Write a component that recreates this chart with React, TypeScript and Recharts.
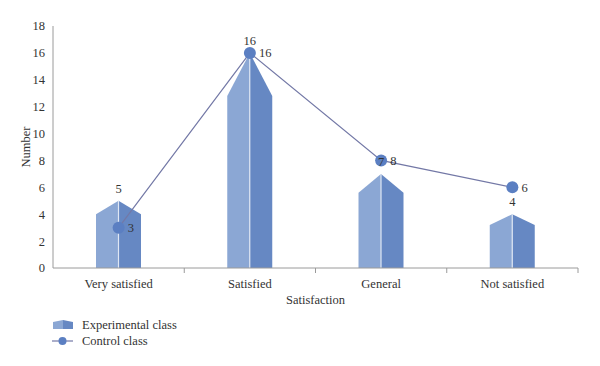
import React from 'react';
import { ComposedChart, Bar, Line, XAxis, YAxis, LabelList, Legend } from 'recharts';

const categories = ['Very satisfied', 'Satisfied', 'General', 'Not satisfied'];
const experimental = [5, 16, 7, 4];
const control = [3, 16, 8, 6];
const yTicks = [0, 2, 4, 6, 8, 10, 12, 14, 16, 18];

const data = categories.map((c, i) => ({ name: c, experimental: experimental[i], control: control[i] }));

const LEFT = '#8ba7d4';
const RIGHT = '#6688c3';
const DOT = '#5b7fc2';
const LINE = '#7378a6';
const FONT = '"Liberation Serif", "DejaVu Serif", serif';
const TXT = '#333';

const HouseBar = (props: any) => {
  const { x, y, width, height } = props;
  if (!height || height <= 0) return null;
  const cx = x + width / 2;
  const sh = y + height * 0.2;
  const b = y + height;
  return (
    <g>
      <polygon points={`${x},${sh} ${cx},${y} ${cx},${b} ${x},${b}`} fill={LEFT} />
      <polygon points={`${cx},${y} ${x + width},${sh} ${x + width},${b} ${cx},${b}`} fill={RIGHT} />
      <line x1={cx} y1={y} x2={cx} y2={b} stroke="#dfe7f4" strokeWidth={1.2} />
    </g>
  );
};

const XTick = (props: any) => {
  const { x, y, payload, index, visibleTicksCount } = props;
  const off = payload && payload.offset ? payload.offset : 65.5;
  const last = index === (visibleTicksCount ? visibleTicksCount - 1 : 3);
  return (
    <g>
      {index > 0 && <line x1={x - off} y1={y - 8} x2={x - off} y2={y - 3} stroke="#9a9a9a" />}
      {last && <line x1={x + off} y1={y - 8} x2={x + off} y2={y - 3} stroke="#9a9a9a" />}
      <text x={x} y={y + 12} textAnchor="middle" fontFamily={FONT} fontSize={12.5} fill={TXT}>
        {payload.value}
      </text>
    </g>
  );
};

const LegendContent = () => (
  <div style={{ fontFamily: FONT, fontSize: 12.5, color: TXT, lineHeight: '16px' }}>
    <div style={{ display: 'flex', alignItems: 'center' }}>
      <svg width={32} height={16}>
        <polygon points="3,5 13,3 13,12 3,12" fill={LEFT} />
        <polygon points="13,3 23,5 23,12 13,12" fill={RIGHT} />
      </svg>
      <span>Experimental class</span>
    </div>
    <div style={{ display: 'flex', alignItems: 'center' }}>
      <svg width={32} height={16}>
        <line x1={2} y1={8} x2={23} y2={8} stroke={LINE} strokeWidth={1.2} />
        <circle cx={12.5} cy={8} r={4} fill={DOT} />
      </svg>
      <span>Control class</span>
    </div>
  </div>
);

export default function App() {
  return (
    <div style={{ position: 'absolute', left: 0, top: 0, width: 600, height: 366, background: '#fff' }}>
      <ComposedChart
        width={600}
        height={366}
        data={data}
        margin={{ top: 26, right: 22, left: 0, bottom: 26 }}
      >
        <XAxis
          dataKey="name"
          axisLine={{ stroke: '#9a9a9a' }}
          tickLine={false}
          tick={<XTick />}
          interval={0}
          height={36}
          label={{ value: 'Satisfaction', position: 'insideBottom', offset: 0, fontFamily: FONT, fontSize: 12.5, fill: TXT }}
        />
        <YAxis
          domain={[0, 18]}
          ticks={yTicks}
          interval={0}
          width={53}
          axisLine={{ stroke: '#9a9a9a' }}
          tickLine={false}
          tick={{ fontFamily: FONT, fontSize: 12.5, fill: TXT }}
          label={{ value: 'Number', angle: -90, position: 'insideLeft', offset: 26, fontFamily: FONT, fontSize: 12.5, fill: TXT, style: { textAnchor: 'middle' } }}
        />
        <Legend
          content={<LegendContent />}
          wrapperStyle={{ position: 'absolute', left: 50, top: 317, width: 200, height: 36 }}
        />
        <Bar dataKey="experimental" name="Experimental class" barSize={45} shape={<HouseBar />} isAnimationActive={false}>
          <LabelList dataKey="experimental" position="top" offset={8} fontFamily={FONT} fontSize={12.5} fill={TXT} />
        </Bar>
        <Line
          dataKey="control"
          name="Control class"
          stroke={LINE}
          strokeWidth={1.2}
          dot={{ r: 6, fill: DOT, stroke: DOT, strokeWidth: 0 }}
          isAnimationActive={false}
        >
          <LabelList dataKey="control" position="right" offset={9} fontFamily={FONT} fontSize={12.5} fill={TXT} />
        </Line>
      </ComposedChart>
    </div>
  );
}
